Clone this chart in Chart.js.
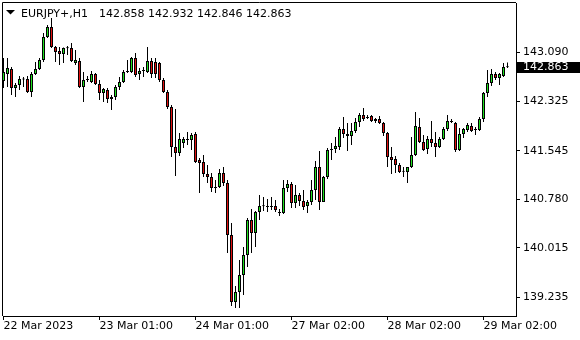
<!DOCTYPE html>
<html>
<head>
<meta charset="utf-8">
<script src="https://cdn.jsdelivr.net/npm/chart.js@4.4.0/dist/chart.umd.min.js"></script>
<style>
  html, body { margin: 0; padding: 0; background: #fff; }
  #wrap { width: 580px; height: 340px; }
</style>
</head>
<body>
<div id="wrap"><canvas id="chart" width="580" height="340"></canvas></div>
<script>
// EURJPY+ H1 candles
const symbol = 'EURJPY+,H1';

const opens = [
  142.641, 142.752, 142.830, 142.531, 142.579, 142.673, 142.673, 142.468, 142.752, 142.830,
  142.972, 143.334, 143.491, 143.177, 143.114, 143.066, 143.161, 143.161, 142.925, 142.956,
  142.547, 142.657, 142.626, 142.752, 142.594, 142.453, 142.500, 142.358, 142.390, 142.547,
  142.626, 142.783, 142.783, 143.003, 142.752, 142.799, 142.783, 142.956, 142.940, 142.925,
  142.657, 142.468, 142.232, 141.603, 141.509, 141.666, 141.713, 141.713, 141.808, 141.398,
  141.367, 141.178, 141.131, 140.958, 140.974, 141.194, 141.036, 140.218, 139.164, 139.321,
  139.589, 139.904, 140.454, 140.250, 140.580, 140.675, 140.669, 140.659, 140.675, 140.570,
  140.564, 140.958, 141.021, 140.722, 140.848, 140.753, 140.675, 140.738, 140.926, 141.288,
  140.738, 141.131, 141.556, 141.572, 141.603, 141.886, 141.808, 141.776, 141.855, 141.996,
  142.106, 142.059, 142.091, 142.012, 142.043, 141.981, 141.823, 141.446, 141.414, 141.320,
  141.225, 141.210, 141.288, 141.477, 141.918, 141.682, 141.572, 141.729, 141.666, 141.603,
  141.729, 141.886, 142.012, 141.981, 141.556, 141.808, 141.870, 141.933, 141.870, 141.870,
  142.043, 142.453, 142.610, 142.752, 142.689, 142.720, 142.858
];
const highs = [
  143.003, 143.003, 142.862, 142.610, 142.720, 142.704, 142.720, 142.783, 142.940, 143.003,
  143.397, 143.523, 143.633, 143.192, 143.177, 143.170, 143.192, 143.239, 143.129, 143.003,
  142.783, 142.720, 142.799, 142.767, 142.657, 142.531, 142.531, 142.421, 142.579, 142.704,
  142.815, 142.972, 143.019, 143.082, 142.846, 142.862, 143.177, 143.003, 143.003, 142.940,
  142.689, 142.500, 142.264, 142.201, 141.823, 141.760, 141.839, 141.823, 141.839, 141.430,
  141.477, 141.320, 141.194, 141.084, 141.257, 141.288, 141.084, 140.407, 139.416, 139.825,
  140.030, 140.486, 140.627, 140.596, 140.848, 140.816, 140.785, 140.816, 140.769, 140.627,
  141.084, 141.084, 141.052, 141.005, 140.879, 140.926, 140.769, 141.084, 141.383, 141.540,
  141.147, 141.587, 141.666, 141.760, 141.918, 142.075, 141.981, 141.981, 142.059, 142.138,
  142.217, 142.106, 142.106, 142.059, 142.091, 141.996, 141.839, 141.603, 141.461, 141.351,
  141.288, 141.288, 141.760, 142.154, 142.059, 141.792, 141.776, 142.012, 141.839, 141.760,
  141.918, 142.106, 142.043, 141.996, 141.902, 141.902, 141.981, 141.981, 141.918, 142.075,
  142.468, 142.815, 142.830, 142.783, 142.767, 142.925, 142.932
];
const lows = [
  142.531, 142.547, 142.421, 142.390, 142.500, 142.547, 142.453, 142.390, 142.736, 142.815,
  142.940, 143.318, 143.161, 142.940, 142.893, 142.925, 143.051, 142.940, 142.893, 142.531,
  142.311, 142.626, 142.610, 142.579, 142.343, 142.311, 142.295, 142.185, 142.343, 142.500,
  142.610, 142.767, 142.767, 142.704, 142.657, 142.704, 142.767, 142.689, 142.689, 142.626,
  142.453, 142.201, 141.446, 141.147, 141.461, 141.587, 141.634, 141.556, 141.351, 140.879,
  141.131, 141.036, 140.895, 140.879, 140.958, 140.989, 139.935, 139.101, 139.070, 139.070,
  139.274, 139.715, 139.935, 140.030, 140.454, 140.596, 140.580, 140.612, 140.580, 140.517,
  140.549, 140.895, 140.643, 140.643, 140.675, 140.612, 140.564, 140.690, 140.769, 140.612,
  140.738, 141.099, 141.398, 141.509, 141.556, 141.745, 141.540, 141.634, 141.823, 141.918,
  142.012, 142.043, 141.996, 141.981, 141.965, 141.776, 141.288, 141.178, 141.194, 141.194,
  141.131, 141.036, 141.273, 141.461, 141.666, 141.540, 141.493, 141.603, 141.446, 141.587,
  141.713, 141.855, 141.981, 141.524, 141.540, 141.745, 141.839, 141.839, 141.792, 141.855,
  141.996, 142.390, 142.563, 142.657, 142.579, 142.704, 142.846
];
const closes = [
  142.783, 142.846, 142.531, 142.579, 142.673, 142.667, 142.468, 142.752, 142.830, 142.972,
  143.334, 143.491, 143.177, 143.098, 143.066, 143.161, 143.155, 142.956, 142.972, 142.547,
  142.657, 142.673, 142.752, 142.594, 142.453, 142.516, 142.358, 142.390, 142.547, 142.626,
  142.783, 142.799, 143.003, 142.736, 142.799, 142.805, 142.956, 142.752, 142.752, 142.657,
  142.468, 142.232, 141.603, 141.509, 141.729, 141.729, 141.719, 141.792, 141.367, 141.351,
  141.178, 141.131, 140.958, 140.974, 141.194, 141.036, 140.218, 139.164, 139.321, 139.589,
  139.904, 140.454, 140.250, 140.580, 140.675, 140.669, 140.659, 140.675, 140.612, 140.564,
  140.958, 141.021, 140.722, 140.848, 140.753, 140.659, 140.738, 140.926, 141.288, 140.738,
  141.131, 141.556, 141.572, 141.619, 141.886, 141.808, 141.776, 141.855, 141.996, 142.106,
  142.043, 142.070, 142.012, 142.043, 141.981, 141.823, 141.446, 141.398, 141.320, 141.210,
  141.215, 141.288, 141.477, 141.933, 141.682, 141.556, 141.729, 141.666, 141.603, 141.729,
  141.886, 142.012, 141.996, 141.556, 141.808, 141.886, 141.949, 141.855, 141.880, 142.043,
  142.453, 142.610, 142.752, 142.689, 142.752, 142.862, 142.863
];

// time axis: bar index of each label, and its text
const timeTickIndex = [0, 24, 48, 72, 96, 120];
const timeTickLabels = ['22 Mar 2023', '23 Mar 01:00', '24 Mar 01:00', '27 Mar 02:00', '28 Mar 02:00', '29 Mar 02:00'];

// price axis labels
const priceTicks = [139.235, 140.015, 140.780, 141.545, 142.325, 143.090];

const BULL = '#1fe01f';
const BEAR = '#e01010';
const FONT = '"DejaVu Sans", Verdana, sans-serif';

Chart.defaults.font.family = FONT;
Chart.defaults.font.size = 11;
Chart.defaults.color = '#000';

const idx = opens.map((_, i) => i);
const wickData = idx.map(i => ({ x: i, y: [lows[i], highs[i]] }));
const bodyData = idx.map(i => ({ x: i, y: [Math.min(opens[i], closes[i]), Math.max(opens[i], closes[i])] }));
const bodyColors = idx.map(i => closes[i] >= opens[i] ? BULL : BEAR);

// frame top/left, title line and the last price box
const terminalDecor = {
  id: 'terminalDecor',
  afterDraw(chart) {
    const ctx = chart.ctx;
    const a = chart.chartArea;
    const last = opens.length - 1;
    ctx.save();
    ctx.strokeStyle = '#000';
    ctx.lineWidth = 1;
    ctx.beginPath();
    ctx.moveTo(a.left - 0.5, a.bottom);
    ctx.lineTo(a.left - 0.5, a.top - 0.5);
    ctx.lineTo(a.right, a.top - 0.5);
    ctx.stroke();

    ctx.fillStyle = '#000';
    ctx.beginPath();
    ctx.moveTo(6, 10);
    ctx.lineTo(15, 10);
    ctx.lineTo(10.5, 14.5);
    ctx.closePath();
    ctx.fill();

    ctx.font = '11px ' + FONT;
    ctx.textBaseline = 'alphabetic';
    ctx.fillText(symbol, 21, 17);
    const ohlc = [opens[last], highs[last], lows[last], closes[last]].map(v => v.toFixed(3)).join(' ');
    ctx.fillText(ohlc, 99, 17);

    const y = Math.round(chart.scales.y.getPixelForValue(closes[last]));
    ctx.fillRect(a.right + 1, y - 5, chart.width - a.right - 1, 11);
    ctx.fillStyle = '#fff';
    ctx.textBaseline = 'middle';
    ctx.fillText(closes[last].toFixed(3), 523, y + 0.5);
    ctx.restore();
  }
};

new Chart(document.getElementById('chart'), {
  type: 'bar',
  data: {
    datasets: [
      {
        label: 'body',
        data: bodyData,
        backgroundColor: bodyColors,
        borderColor: '#000',
        borderWidth: 1,
        borderSkipped: false,
        barThickness: 3,
        minBarLength: 1,
        grouped: false,
        inflateAmount: 0,
        order: 0
      },
      {
        label: 'wick',
        data: wickData,
        backgroundColor: '#000',
        borderWidth: 0,
        barThickness: 1,
        grouped: false,
        inflateAmount: 0,
        order: 1
      }
    ]
  },
  options: {
    responsive: false,
    animation: false,
    layout: { padding: { left: 3, top: 3, right: 0, bottom: 0 } },
    plugins: {
      legend: { display: false },
      tooltip: { enabled: false }
    },
    scales: {
      x: {
        type: 'linear',
        min: -0.125,
        max: 128.125,
        offset: false,
        grid: { display: true, drawOnChartArea: false, drawTicks: true, tickLength: 4, color: '#000', offset: false },
        border: { display: true, color: '#000' },
        ticks: {
          autoSkip: false,
          maxRotation: 0,
          align: 'start',
          padding: 0,
          callback: v => timeTickLabels[timeTickIndex.indexOf(v)]
        },
        afterBuildTicks(scale) {
          scale.ticks = timeTickIndex.map(v => ({ value: v }));
        },
        afterFit(scale) {
          scale.height = 24;
          scale.paddingLeft = 0;
          scale.paddingRight = 0;
        }
      },
      y: {
        position: 'right',
        min: 138.9438,
        max: 143.8689,
        grid: { display: true, drawOnChartArea: false, drawTicks: true, tickLength: 4, color: '#000' },
        border: { display: true, color: '#000' },
        ticks: {
          autoSkip: false,
          padding: 3,
          callback: v => v.toFixed(3)
        },
        afterBuildTicks(scale) {
          scale.ticks = priceTicks.map(v => ({ value: v }));
        },
        afterFit(scale) {
          scale.width = 64;
          scale.paddingTop = 0;
          scale.paddingBottom = 0;
        }
      }
    }
  },
  plugins: [terminalDecor]
});
</script>
</body>
</html>
